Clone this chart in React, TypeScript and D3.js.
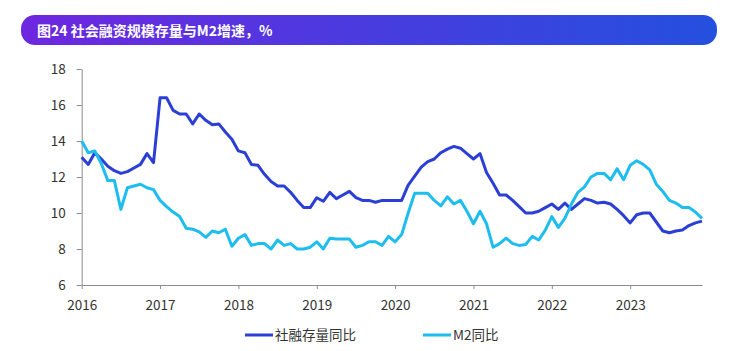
import { useRef, useEffect } from 'react';
import * as d3 from 'd3';

// monthly, Jan 2016 – Dec 2023
const tsfGrowth = [
  13.1, 12.7, 13.35, 13.0, 12.6, 12.35, 12.2, 12.3, 12.5, 12.7, 13.3, 12.8,
  16.4, 16.4, 15.7, 15.5, 15.5, 14.95, 15.5, 15.15, 14.9, 14.95, 14.5, 14.1,
  13.45, 13.35, 12.7, 12.65, 12.15, 11.75, 11.5, 11.5, 11.15, 10.7, 10.3, 10.3,
  10.85, 10.65, 11.15, 10.8, 11.0, 11.2, 10.85, 10.7, 10.7, 10.6, 10.7, 10.7,
  10.7, 10.7, 11.55, 12.05, 12.55, 12.85, 13.0, 13.35, 13.55, 13.7, 13.6, 13.3,
  13.0, 13.3, 12.25, 11.65, 11.0, 11.0, 10.7, 10.35, 10.0, 10.0, 10.1, 10.3,
  10.5, 10.2, 10.55, 10.2, 10.5, 10.8, 10.7, 10.55, 10.6, 10.5, 10.2, 9.85,
  9.45, 9.9, 10.0, 10.0, 9.5, 9.0, 8.9, 9.0, 9.05, 9.3, 9.45, 9.55,
];
const m2Growth = [
  14.0, 13.35, 13.45, 12.75, 11.8, 11.8, 10.2, 11.4, 11.5, 11.6, 11.4, 11.3,
  10.7, 10.35, 10.05, 9.8, 9.15, 9.1, 8.95, 8.65, 9.0, 8.9, 9.1, 8.15,
  8.6, 8.8, 8.2, 8.3, 8.3, 8.0, 8.5, 8.2, 8.3, 8.0, 8.0, 8.1,
  8.4, 8.0, 8.6, 8.55, 8.55, 8.55, 8.1, 8.2, 8.4, 8.4, 8.2, 8.7,
  8.4, 8.8, 10.0, 11.1, 11.1, 11.1, 10.7, 10.4, 10.9, 10.5, 10.7, 10.1,
  9.4, 10.1, 9.4, 8.1, 8.3, 8.6, 8.3, 8.2, 8.25, 8.7, 8.5, 9.05,
  9.8, 9.2, 9.7, 10.5, 11.15, 11.45, 12.0, 12.2, 12.2, 11.85, 12.45, 11.85,
  12.65, 12.9, 12.7, 12.4, 11.6, 11.2, 10.7, 10.55, 10.3, 10.3, 10.05, 9.7,
];
const years = ['2016', '2017', '2018', '2019', '2020', '2021', '2022', '2023'];
const yTicks = [6, 8, 10, 12, 14, 16, 18];
const seriesNames = ['社融存量同比', 'M2同比'];

const FONT = '"Noto Sans CJK SC", "Noto Sans", sans-serif';
const DARK = '#2b3fd6';
const CYAN = '#1ebdf0';

export default function App() {
  const svgRef = useRef<SVGSVGElement>(null);

  useEffect(() => {
    if (!svgRef.current) return;
    const svg = d3.select(svgRef.current);
    svg.selectAll('*').remove();

    // Title bar
    const defs = svg.append('defs');
    const grad = defs.append('linearGradient').attr('id', 'titleGrad')
      .attr('x1', '0%').attr('x2', '100%').attr('y1', '0%').attr('y2', '0%');
    grad.append('stop').attr('offset', '0%').attr('stop-color', '#6e27df');
    grad.append('stop').attr('offset', '100%').attr('stop-color', '#2450de');
    svg.append('rect')
      .attr('x', 21).attr('y', 15).attr('width', 696).attr('height', 30)
      .attr('rx', 14).attr('fill', 'url(#titleGrad)');
    svg.append('text')
      .attr('x', 37).attr('y', 35.5)
      .attr('fill', '#fff').style('font-family', FONT)
      .style('font-size', '14px').style('font-weight', 'bold')
      .text('图24 社会融资规模存量与M2增速，%');

    const n = tsfGrowth.length;
    const x = d3.scaleLinear().domain([0, n - 1]).range([81.7, 702]);
    const y = d3.scaleLinear().domain([6, 18]).range([285, 69]);

    const axisColor = '#8c8c8c';

    svg.append('g')
      .attr('transform', 'translate(81.7,0)')
      .call(d3.axisLeft(y).tickValues(yTicks).tickSize(5).tickSizeOuter(0).tickPadding(11))
      .call((g) => {
        g.select('.domain').attr('stroke', axisColor);
        g.selectAll('line').attr('stroke', axisColor);
        g.selectAll('text').attr('fill', '#333').style('font-family', FONT).style('font-size', '13.5px');
      });

    svg.append('g')
      .attr('transform', 'translate(0,285)')
      .call(d3.axisBottom(x)
        .tickValues(years.map((_, i) => i * 12))
        .tickFormat((d) => years[Math.round(Number(d) / 12)])
        .tickSize(4).tickSizeOuter(0).tickPadding(11))
      .call((g) => {
        g.select('.domain').attr('stroke', axisColor);
        g.selectAll('line').attr('stroke', axisColor);
        g.selectAll('text').attr('fill', '#333').style('font-family', FONT).style('font-size', '13.5px');
      });

    const line = d3.line<number>()
      .x((_, i) => x(i))
      .y((d) => y(d));

    [[tsfGrowth, DARK], [m2Growth, CYAN]].forEach(([data, color]) => {
      svg.append('path')
        .datum(data as number[])
        .attr('d', line)
        .attr('fill', 'none')
        .attr('stroke', color as string)
        .attr('stroke-width', 3)
        .attr('stroke-linejoin', 'round');
    });

    // Legend
    const legendX = [245, 423];
    seriesNames.forEach((name, i) => {
      const lg = svg.append('g').attr('transform', `translate(${legendX[i]},335)`);
      lg.append('line')
        .attr('x1', 0).attr('x2', 28).attr('y1', 0).attr('y2', 0)
        .attr('stroke', i === 0 ? DARK : CYAN).attr('stroke-width', 3);
      lg.append('text')
        .attr('x', 30).attr('y', 5)
        .attr('fill', '#333').style('font-family', FONT).style('font-size', '13.5px')
        .text(name);
    });
  }, []);

  return (
    <svg
      ref={svgRef}
      width={736}
      height={351}
      style={{ position: 'absolute', left: 0, top: 0, background: '#fff' }}
    />
  );
}
